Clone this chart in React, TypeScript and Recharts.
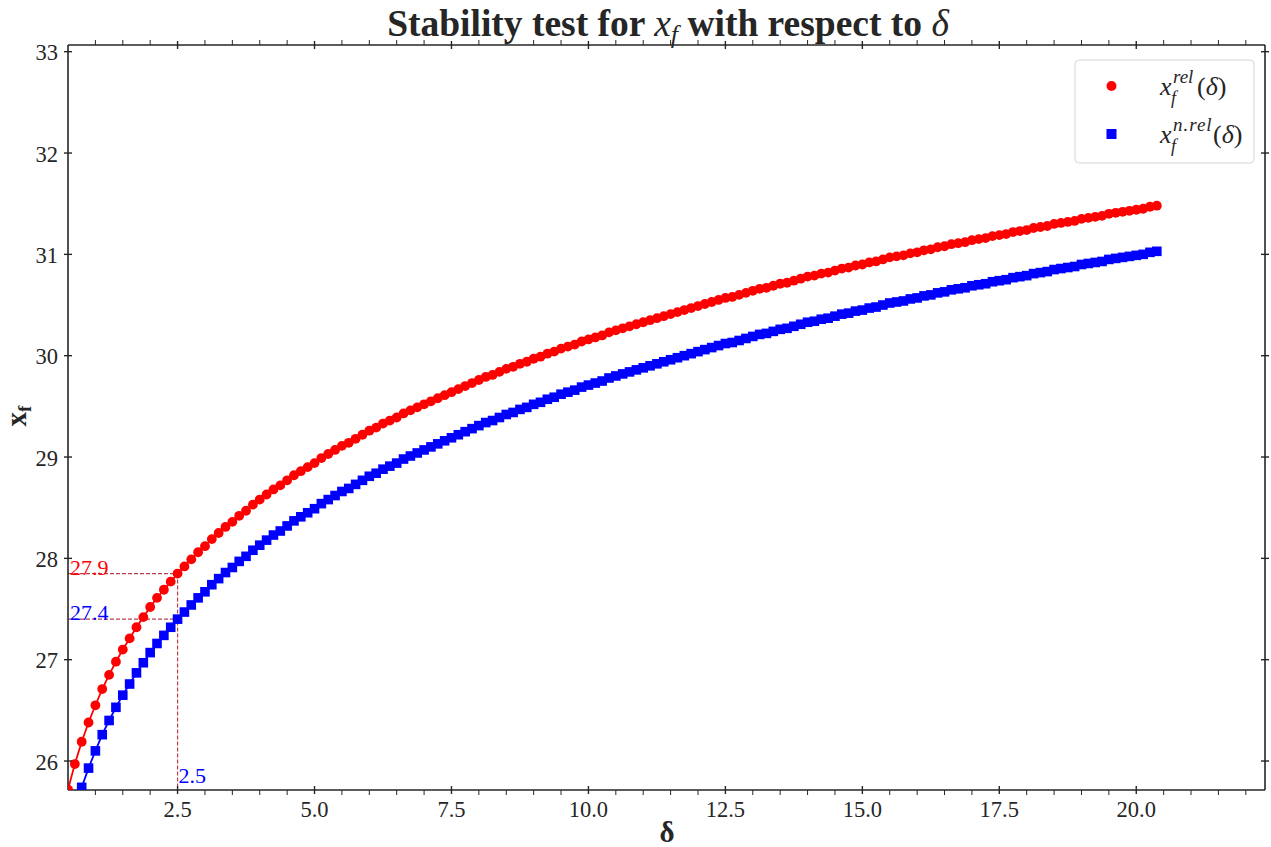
import React from 'react';
import { LineChart, Line, XAxis, YAxis, ReferenceLine } from 'recharts';

const FONT = '"Liberation Serif", "Times New Roman", Times, serif';
const AX = '#262626';
const RED = '#ff0000';
const BLUE = '#0000ff';
const GUIDE = '#b8404c';

const W = 1271;
const H = 847;

const X_DOMAIN: [number, number] = [0.5, 22.35];
const Y_DOMAIN: [number, number] = [25.714, 33.066];

// delta values
const deltaValues = [
  0.5, 0.625, 0.75, 0.875, 1, 1.125, 1.25, 1.375, 1.5, 1.625, 1.75, 1.875,
  2, 2.125, 2.25, 2.375, 2.5, 2.625, 2.75, 2.875, 3, 3.125, 3.25, 3.375,
  3.5, 3.625, 3.75, 3.875, 4, 4.125, 4.25, 4.375, 4.5, 4.625, 4.75, 4.875,
  5, 5.125, 5.25, 5.375, 5.5, 5.625, 5.75, 5.875, 6, 6.125, 6.25, 6.375,
  6.5, 6.625, 6.75, 6.875, 7, 7.125, 7.25, 7.375, 7.5, 7.625, 7.75, 7.875,
  8, 8.125, 8.25, 8.375, 8.5, 8.625, 8.75, 8.875, 9, 9.125, 9.25, 9.375,
  9.5, 9.625, 9.75, 9.875, 10, 10.125, 10.25, 10.375, 10.5, 10.625, 10.75, 10.875,
  11, 11.125, 11.25, 11.375, 11.5, 11.625, 11.75, 11.875, 12, 12.125, 12.25, 12.375,
  12.5, 12.625, 12.75, 12.875, 13, 13.125, 13.25, 13.375, 13.5, 13.625, 13.75, 13.875,
  14, 14.125, 14.25, 14.375, 14.5, 14.625, 14.75, 14.875, 15, 15.125, 15.25, 15.375,
  15.5, 15.625, 15.75, 15.875, 16, 16.125, 16.25, 16.375, 16.5, 16.625, 16.75, 16.875,
  17, 17.125, 17.25, 17.375, 17.5, 17.625, 17.75, 17.875, 18, 18.125, 18.25, 18.375,
  18.5, 18.625, 18.75, 18.875, 19, 19.125, 19.25, 19.375, 19.5, 19.625, 19.75, 19.875,
  20, 20.125, 20.25, 20.375,
];

// x_f^{rel}(delta)
const xfRel = [
  25.72, 25.97, 26.19, 26.38, 26.55, 26.71, 26.85, 26.98, 27.10, 27.21, 27.32, 27.42,
  27.52, 27.61, 27.69, 27.77, 27.85, 27.92, 27.99, 28.06, 28.12, 28.19, 28.25, 28.31,
  28.36, 28.42, 28.47, 28.53, 28.58, 28.63, 28.68, 28.72, 28.77, 28.82, 28.86, 28.90,
  28.94, 28.99, 29.03, 29.07, 29.11, 29.14, 29.18, 29.22, 29.26, 29.29, 29.33, 29.36,
  29.39, 29.43, 29.46, 29.49, 29.52, 29.55, 29.58, 29.61, 29.64, 29.67, 29.70, 29.73,
  29.76, 29.79, 29.81, 29.84, 29.87, 29.89, 29.92, 29.94, 29.97, 29.99, 30.02, 30.04,
  30.07, 30.09, 30.11, 30.14, 30.16, 30.18, 30.20, 30.23, 30.25, 30.27, 30.29, 30.31,
  30.33, 30.35, 30.37, 30.39, 30.41, 30.43, 30.45, 30.47, 30.49, 30.51, 30.53, 30.55,
  30.57, 30.58, 30.60, 30.62, 30.64, 30.66, 30.67, 30.69, 30.71, 30.72, 30.74, 30.76,
  30.78, 30.79, 30.81, 30.82, 30.84, 30.86, 30.87, 30.89, 30.90, 30.92, 30.93, 30.95,
  30.97, 30.98, 30.99, 31.01, 31.02, 31.04, 31.05, 31.07, 31.08, 31.10, 31.11, 31.12,
  31.14, 31.15, 31.16, 31.18, 31.19, 31.20, 31.22, 31.23, 31.24, 31.26, 31.27, 31.28,
  31.30, 31.31, 31.32, 31.33, 31.35, 31.36, 31.37, 31.38, 31.40, 31.41, 31.42, 31.43,
  31.44, 31.45, 31.47, 31.48,
];

// x_f^{n.rel}(delta)
const xfNonRel = [
  25.27, 25.52, 25.74, 25.93, 26.10, 26.26, 26.40, 26.53, 26.65, 26.76, 26.87, 26.97,
  27.07, 27.16, 27.24, 27.32, 27.40, 27.47, 27.54, 27.61, 27.67, 27.74, 27.80, 27.86,
  27.91, 27.97, 28.02, 28.08, 28.13, 28.18, 28.23, 28.27, 28.32, 28.37, 28.41, 28.45,
  28.49, 28.54, 28.58, 28.62, 28.66, 28.69, 28.73, 28.77, 28.81, 28.84, 28.88, 28.91,
  28.94, 28.98, 29.01, 29.04, 29.07, 29.10, 29.13, 29.16, 29.19, 29.22, 29.25, 29.28,
  29.31, 29.34, 29.36, 29.39, 29.42, 29.44, 29.47, 29.49, 29.52, 29.54, 29.57, 29.59,
  29.62, 29.64, 29.66, 29.69, 29.71, 29.73, 29.75, 29.78, 29.80, 29.82, 29.84, 29.86,
  29.88, 29.90, 29.92, 29.94, 29.96, 29.98, 30.00, 30.02, 30.04, 30.06, 30.08, 30.10,
  30.12, 30.13, 30.15, 30.17, 30.19, 30.21, 30.22, 30.24, 30.26, 30.27, 30.29, 30.31,
  30.33, 30.34, 30.36, 30.37, 30.39, 30.41, 30.42, 30.44, 30.45, 30.47, 30.48, 30.50,
  30.52, 30.53, 30.54, 30.56, 30.57, 30.59, 30.60, 30.62, 30.63, 30.65, 30.66, 30.67,
  30.69, 30.70, 30.71, 30.73, 30.74, 30.75, 30.77, 30.78, 30.79, 30.81, 30.82, 30.83,
  30.85, 30.86, 30.87, 30.88, 30.90, 30.91, 30.92, 30.93, 30.95, 30.96, 30.97, 30.98,
  30.99, 31.00, 31.02, 31.03,
];

// ticks
const xMajorTicks = [2.5, 5.0, 7.5, 10.0, 12.5, 15.0, 17.5, 20.0];
const xAllTicks = [
  1.0, 1.5, 2.0, 2.5, 3.0, 3.5, 4.0, 4.5, 5.0, 5.5, 6.0, 6.5, 7.0, 7.5, 8.0, 8.5,
  9.0, 9.5, 10.0, 10.5, 11.0, 11.5, 12.0, 12.5, 13.0, 13.5, 14.0, 14.5, 15.0, 15.5,
  16.0, 16.5, 17.0, 17.5, 18.0, 18.5, 19.0, 19.5, 20.0, 20.5, 21.0, 21.5, 22.0,
];
const yTicks = [26, 27, 28, 29, 30, 31, 32, 33];

// annotation values
const markDelta = 2.5;
const markRel = 27.85;
const markNonRel = 27.4;
const markRelLabel = '27.9';
const markNonRelLabel = '27.4';
const markDeltaLabel = '2.5';

const data = deltaValues.map((d, i) => ({ d, rel: xfRel[i], nrel: xfNonRel[i] }));

const isMajor = (v: number) => xMajorTicks.some((m) => Math.abs(m - v) < 1e-9);

const BottomTick = (props: any) => {
  const { x, y, payload } = props;
  const v = payload.value;
  if (isMajor(v)) {
    return (
      <g>
        <line x1={x} x2={x} y1={y - 4} y2={y + 4} stroke={AX} strokeWidth={1.4} />
        <text x={x} y={y + 27} textAnchor="middle" fontFamily={FONT} fontSize={22.5} fill={AX}>
          {v.toFixed(1)}
        </text>
      </g>
    );
  }
  return <line x1={x} x2={x} y1={y} y2={y + 5} stroke={AX} strokeWidth={1} />;
};

const TopTick = (props: any) => {
  const { x, y, payload } = props;
  const v = payload.value;
  if (isMajor(v)) {
    return <line x1={x} x2={x} y1={y - 4} y2={y + 4} stroke={AX} strokeWidth={1.4} />;
  }
  return <line x1={x} x2={x} y1={y - 5} y2={y} stroke={AX} strokeWidth={1} />;
};

const LeftTick = (props: any) => {
  const { x, y, payload } = props;
  return (
    <g>
      <line x1={x - 4} x2={x + 4} y1={y} y2={y} stroke={AX} strokeWidth={1.4} />
      <text x={x - 10} y={y + 8.5} textAnchor="end" fontFamily={FONT} fontSize={22.5} fill={AX}>
        {String(payload.value)}
      </text>
    </g>
  );
};

const RightTick = (props: any) => {
  const { x, y } = props;
  return <line x1={x - 4} x2={x + 4} y1={y} y2={y} stroke={AX} strokeWidth={1.4} />;
};

const RedDot = (p: any) => {
  if (p.cx == null || p.cy == null) return <g key={`r${p.index}`} />;
  return <circle key={`r${p.index}`} cx={p.cx} cy={p.cy} r={4.9} fill={RED} stroke="none" />;
};

const BlueDot = (p: any) => {
  if (p.cx == null || p.cy == null) return <g key={`b${p.index}`} />;
  return (
    <rect key={`b${p.index}`} x={p.cx - 4.8} y={p.cy - 4.8} width={9.6} height={9.6} fill={BLUE} stroke="none" />
  );
};

const HLabel = (color: string, text: string) => (props: any) => {
  const vb = props.viewBox || {};
  return (
    <text x={vb.x + 2} y={vb.y + 1} fontFamily={FONT} fontSize={22} fill={color}>
      {text}
    </text>
  );
};

const VLabel = (color: string, text: string) => (props: any) => {
  const vb = props.viewBox || {};
  return (
    <text x={vb.x + 1} y={vb.y + vb.height - 7} fontFamily={FONT} fontSize={22} fill={color}>
      {text}
    </text>
  );
};

export default function App() {
  return (
    <div style={{ position: 'absolute', left: 0, top: 0, width: W, height: H, background: '#fff' }}>
      <LineChart width={W} height={H} data={data} margin={{ top: 40, right: 1, bottom: 12, left: 8 }}>
        <XAxis
          xAxisId="main"
          dataKey="d"
          type="number"
          orientation="bottom"
          domain={X_DOMAIN}
          allowDataOverflow
          ticks={xAllTicks}
          interval={0}
          height={45}
          tickSize={0}
          tickMargin={0}
          tickLine={false}
          tick={<BottomTick />}
          axisLine={{ stroke: AX, strokeWidth: 1.6 }}
        />
        <XAxis
          xAxisId="top"
          dataKey="d"
          type="number"
          orientation="top"
          domain={X_DOMAIN}
          allowDataOverflow
          ticks={xAllTicks}
          interval={0}
          height={5}
          tickSize={0}
          tickMargin={0}
          tickLine={false}
          tick={<TopTick />}
          axisLine={{ stroke: AX, strokeWidth: 1.6 }}
        />
        <YAxis
          yAxisId="main"
          type="number"
          orientation="left"
          domain={Y_DOMAIN}
          allowDataOverflow
          ticks={yTicks}
          interval={0}
          width={60}
          tickSize={0}
          tickMargin={0}
          tickLine={false}
          tick={<LeftTick />}
          axisLine={{ stroke: AX, strokeWidth: 1.6 }}
        />
        <YAxis
          yAxisId="right"
          type="number"
          orientation="right"
          domain={Y_DOMAIN}
          allowDataOverflow
          ticks={yTicks}
          interval={0}
          width={5}
          tickSize={0}
          tickMargin={0}
          tickLine={false}
          tick={<RightTick />}
          axisLine={{ stroke: AX, strokeWidth: 1.6 }}
        />
        <ReferenceLine
          xAxisId="main"
          yAxisId="main"
          segment={[{ x: X_DOMAIN[0], y: markRel }, { x: markDelta, y: markRel }]}
          stroke={GUIDE}
          strokeWidth={1.2}
          strokeDasharray="4 2"
          label={HLabel(RED, markRelLabel)}
        />
        <ReferenceLine
          xAxisId="main"
          yAxisId="main"
          segment={[{ x: X_DOMAIN[0], y: markNonRel }, { x: markDelta, y: markNonRel }]}
          stroke={GUIDE}
          strokeWidth={1.2}
          strokeDasharray="4 2"
          label={HLabel(BLUE, markNonRelLabel)}
        />
        <ReferenceLine
          xAxisId="main"
          yAxisId="main"
          segment={[{ x: markDelta, y: markRel }, { x: markDelta, y: Y_DOMAIN[0] }]}
          stroke={GUIDE}
          strokeWidth={1.2}
          strokeDasharray="4 2"
          label={VLabel(BLUE, markDeltaLabel)}
        />
        <Line
          xAxisId="main"
          yAxisId="main"
          dataKey="rel"
          type="linear"
          stroke={RED}
          strokeWidth={1.8}
          dot={RedDot}
          activeDot={false}
          isAnimationActive={false}
        />
        <Line
          xAxisId="main"
          yAxisId="main"
          dataKey="nrel"
          type="linear"
          stroke={BLUE}
          strokeWidth={1.8}
          dot={BlueDot}
          activeDot={false}
          isAnimationActive={false}
        />
      </LineChart>
      <svg
        width={W}
        height={H}
        style={{ position: 'absolute', left: 0, top: 0, pointerEvents: 'none' }}
      >
        <text x={668} y={36} textAnchor="middle" fontFamily={FONT} fontWeight="bold" fontSize={37.5} fill={AX}>
          {'Stability test for '}
          <tspan fontStyle="italic" fontWeight="normal">x</tspan>
          <tspan fontStyle="italic" fontWeight="normal" fontSize={26} dy={7}>f</tspan>
          <tspan dy={-7}>{' with respect to '}</tspan>
          <tspan fontStyle="italic" fontWeight="normal">δ</tspan>
        </text>
        <text
          x={26}
          y={416}
          transform="rotate(-90, 26, 416)"
          textAnchor="middle"
          fontFamily={FONT}
          fontWeight="bold"
          fontSize={29}
          fill={AX}
        >
          x<tspan fontSize={19} dy={5}>f</tspan>
        </text>
        <text x={667} y={842} textAnchor="middle" fontFamily={FONT} fontWeight="bold" fontSize={29} fill={AX}>
          δ
        </text>
        <g>
          <rect x={1075} y={60} width={179} height={103} rx={4} ry={4} fill="#ffffff" fillOpacity={0.8} stroke="#d6d6d6" strokeWidth={1} />
          <circle cx={1111.5} cy={86} r={5} fill={RED} />
          <rect x={1106.5} y={129} width={10} height={10} fill={BLUE} />
          <text x={1160} y={95} fontFamily={FONT} fontStyle="italic" fontSize={26} fill={AX}>x</text>
          <text x={1173} y={83} fontFamily={FONT} fontStyle="italic" fontSize={19} fill={AX}>rel</text>
          <text x={1171} y={104} fontFamily={FONT} fontStyle="italic" fontSize={18} fill={AX}>f</text>
          <text x={1197} y={95} fontFamily={FONT} fontSize={26} fill={AX}>
            (<tspan fontStyle="italic">δ</tspan>)
          </text>
          <text x={1160} y={143} fontFamily={FONT} fontStyle="italic" fontSize={26} fill={AX}>x</text>
          <text x={1173} y={131} fontFamily={FONT} fontStyle="italic" fontSize={19} fill={AX} letterSpacing={1}>n.rel</text>
          <text x={1171} y={152} fontFamily={FONT} fontStyle="italic" fontSize={18} fill={AX}>f</text>
          <text x={1213} y={143} fontFamily={FONT} fontSize={26} fill={AX}>
            (<tspan fontStyle="italic">δ</tspan>)
          </text>
        </g>
      </svg>
    </div>
  );
}
